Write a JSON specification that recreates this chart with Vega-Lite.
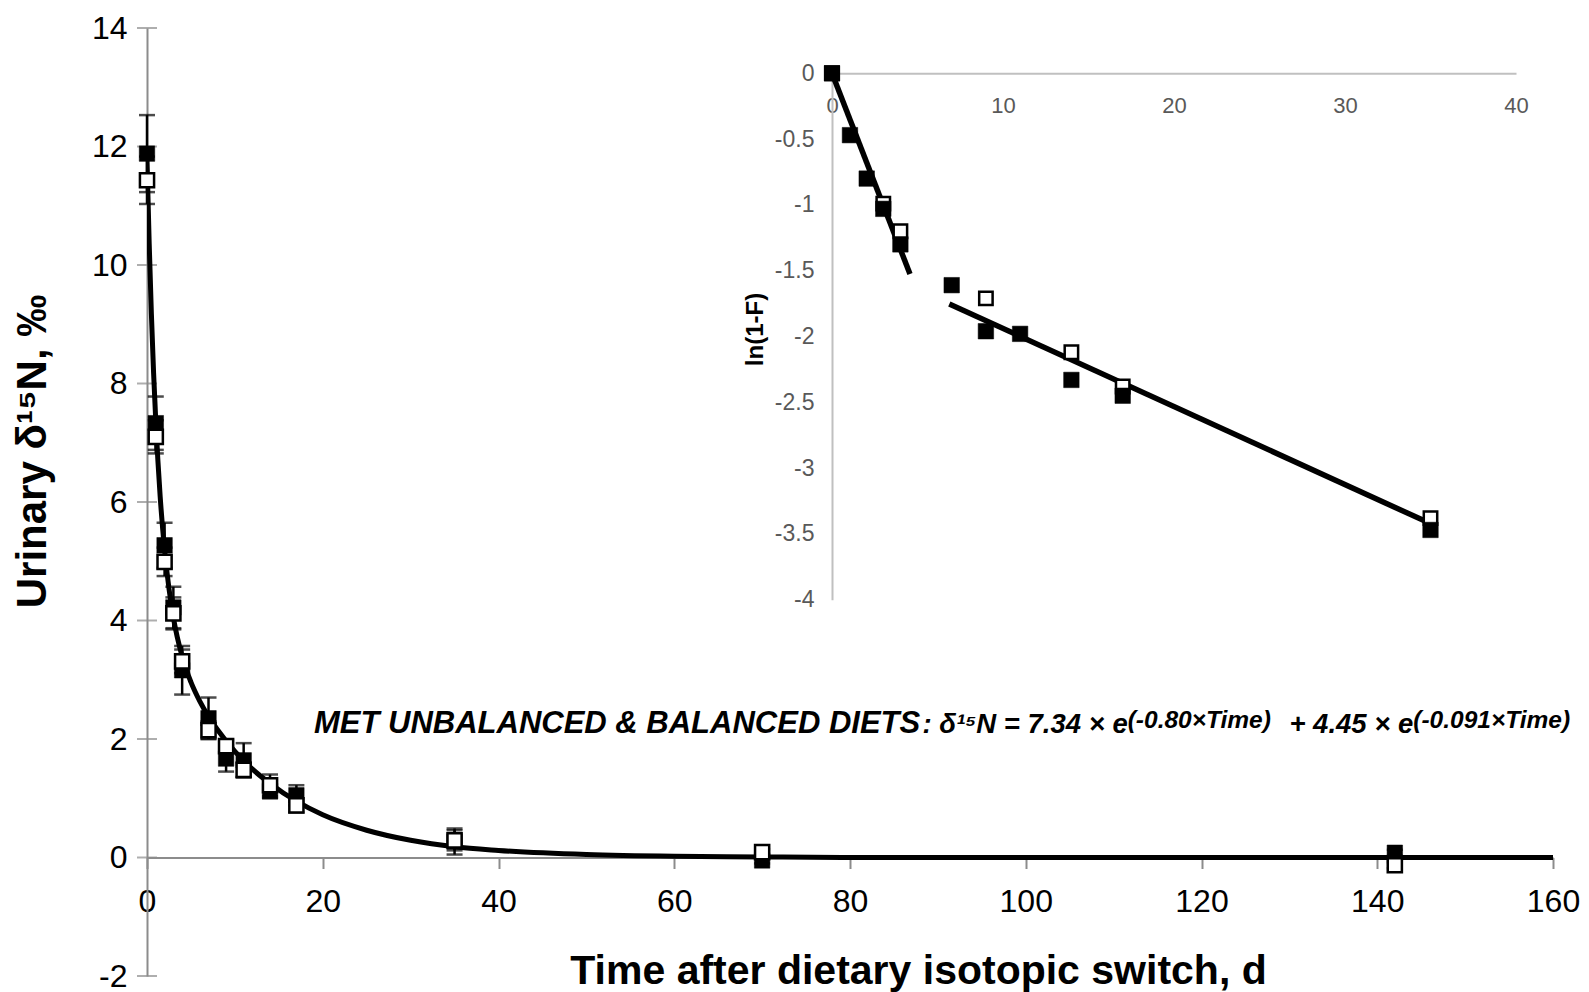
{
  "$schema": "https://vega.github.io/schema/vega-lite/v6.json",
  "width": 1406,
  "height": 948,
  "autosize": {"type": "none"},
  "padding": {"left": 147, "top": 28, "right": 36, "bottom": 16},
  "background": "white",
  "config": {"view": {"stroke": null}, "font": "Liberation Sans", "axis": {"grid": false}},
  "datasets": {
    "curve": [
      {"t": 0, "v": 11.79}, {"t": 0.25, "v": 10.36}, {"t": 0.5, "v": 9.17}, {"t": 0.75, "v": 8.18},
      {"t": 1, "v": 7.36}, {"t": 1.5, "v": 6.09}, {"t": 2, "v": 5.19}, {"t": 2.5, "v": 4.54},
      {"t": 3, "v": 4.05}, {"t": 4, "v": 3.39}, {"t": 5, "v": 2.96}, {"t": 6, "v": 2.64},
      {"t": 7, "v": 2.38}, {"t": 8, "v": 2.16}, {"t": 10, "v": 1.79}, {"t": 12, "v": 1.49},
      {"t": 14, "v": 1.25}, {"t": 17, "v": 0.95}, {"t": 20, "v": 0.72}, {"t": 25, "v": 0.46},
      {"t": 30, "v": 0.29}, {"t": 35, "v": 0.18}, {"t": 40, "v": 0.12}, {"t": 50, "v": 0.05},
      {"t": 60, "v": 0.02}, {"t": 70, "v": 0.01}, {"t": 80, "v": 0.0}, {"t": 100, "v": 0.0},
      {"t": 130, "v": 0.0}, {"t": 160, "v": 0.0}
    ],
    "yticks": [
      {"t": 0, "v": -2}, {"t": 0, "v": 0}, {"t": 0, "v": 2}, {"t": 0, "v": 4}, {"t": 0, "v": 6},
      {"t": 0, "v": 8}, {"t": 0, "v": 10}, {"t": 0, "v": 12}, {"t": 0, "v": 14}
    ],
    "points": [
      {"t": 0, "v": 11.88, "s": "filled"}, {"t": 1, "v": 7.33, "s": "filled"}, {"t": 2, "v": 5.27, "s": "filled"},
      {"t": 3, "v": 4.22, "s": "filled"}, {"t": 4, "v": 3.16, "s": "filled"}, {"t": 7, "v": 2.35, "s": "filled"},
      {"t": 9, "v": 1.67, "s": "filled"}, {"t": 11, "v": 1.64, "s": "filled"}, {"t": 14, "v": 1.12, "s": "filled"},
      {"t": 17, "v": 1.05, "s": "filled"}, {"t": 35, "v": 0.27, "s": "filled"}, {"t": 70, "v": -0.05, "s": "filled"},
      {"t": 142, "v": 0.08, "s": "filled"},
      {"t": 0, "v": 11.43, "s": "open"}, {"t": 1, "v": 7.10, "s": "open"}, {"t": 2, "v": 4.99, "s": "open"},
      {"t": 3, "v": 4.12, "s": "open"}, {"t": 4, "v": 3.31, "s": "open"}, {"t": 7, "v": 2.15, "s": "open"},
      {"t": 9, "v": 1.88, "s": "open"}, {"t": 11, "v": 1.48, "s": "open"}, {"t": 14, "v": 1.22, "s": "open"},
      {"t": 17, "v": 0.88, "s": "open"}, {"t": 35, "v": 0.29, "s": "open"}, {"t": 70, "v": 0.09, "s": "open"},
      {"t": 142, "v": -0.13, "s": "open"}
    ],
    "errbars": [
      {"t": 0, "v": 11.23, "v2": 12.53}, {"t": 1, "v": 6.88, "v2": 7.78}, {"t": 2, "v": 4.89, "v2": 5.65},
      {"t": 3, "v": 3.87, "v2": 4.57}, {"t": 4, "v": 2.75, "v2": 3.57}, {"t": 7, "v": 2.0, "v2": 2.70},
      {"t": 9, "v": 1.45, "v2": 1.89}, {"t": 11, "v": 1.35, "v2": 1.93}, {"t": 14, "v": 1.0, "v2": 1.24},
      {"t": 17, "v": 0.88, "v2": 1.22}, {"t": 35, "v": 0.05, "v2": 0.49}, {"t": 70, "v": -0.1, "v2": 0.0},
      {"t": 142, "v": 0.03, "v2": 0.13},
      {"t": 0, "v": 11.03, "v2": 11.83}, {"t": 1, "v": 6.82, "v2": 7.38}, {"t": 2, "v": 4.75, "v2": 5.23},
      {"t": 3, "v": 3.85, "v2": 4.39}, {"t": 4, "v": 3.11, "v2": 3.51}, {"t": 7, "v": 2.0, "v2": 2.3},
      {"t": 9, "v": 1.78, "v2": 1.98}, {"t": 11, "v": 1.36, "v2": 1.6}, {"t": 14, "v": 1.04, "v2": 1.40},
      {"t": 17, "v": 0.76, "v2": 1.0}, {"t": 35, "v": 0.12, "v2": 0.46}, {"t": 70, "v": 0.04, "v2": 0.14},
      {"t": 142, "v": -0.18, "v2": -0.08}
    ],
    "caps": [
      {"t": 0, "v": 11.23}, {"t": 0, "v": 12.53}, {"t": 1, "v": 6.88}, {"t": 1, "v": 7.78},
      {"t": 2, "v": 4.89}, {"t": 2, "v": 5.65}, {"t": 3, "v": 3.87}, {"t": 3, "v": 4.57},
      {"t": 4, "v": 2.75}, {"t": 4, "v": 3.57}, {"t": 7, "v": 2.0}, {"t": 7, "v": 2.70},
      {"t": 9, "v": 1.45}, {"t": 9, "v": 1.89}, {"t": 11, "v": 1.35}, {"t": 11, "v": 1.93},
      {"t": 14, "v": 1.0}, {"t": 14, "v": 1.24}, {"t": 17, "v": 0.88}, {"t": 17, "v": 1.22},
      {"t": 35, "v": 0.05}, {"t": 35, "v": 0.49}, {"t": 70, "v": -0.1}, {"t": 70, "v": 0.0},
      {"t": 142, "v": 0.03}, {"t": 142, "v": 0.13},
      {"t": 0, "v": 11.03}, {"t": 0, "v": 11.83}, {"t": 1, "v": 6.82}, {"t": 1, "v": 7.38},
      {"t": 2, "v": 4.75}, {"t": 2, "v": 5.23}, {"t": 3, "v": 3.85}, {"t": 3, "v": 4.39},
      {"t": 4, "v": 3.11}, {"t": 4, "v": 3.51}, {"t": 7, "v": 2.0}, {"t": 7, "v": 2.3},
      {"t": 9, "v": 1.78}, {"t": 9, "v": 1.98}, {"t": 11, "v": 1.36}, {"t": 11, "v": 1.6},
      {"t": 14, "v": 1.04}, {"t": 14, "v": 1.40}, {"t": 17, "v": 0.76}, {"t": 17, "v": 1.0},
      {"t": 35, "v": 0.12}, {"t": 35, "v": 0.46}, {"t": 70, "v": 0.04}, {"t": 70, "v": 0.14},
      {"t": 142, "v": -0.18}, {"t": 142, "v": -0.08}
    ],
    "textLeft": [
      {"t": 19.0, "v": 2.10, "label": "MET UNBALANCED & BALANCED DIETS"}
    ],
    "textRight": [
      {"t": 111.6, "v": 2.10, "label": ": δ¹⁵N = 7.34 × e"},
      {"t": 144.1, "v": 2.10, "label": "+ 4.45 × e"}
    ],
    "textSup": [
      {"t": 111.6, "v": 2.19, "label": "(-0.80×Time)"},
      {"t": 144.1, "v": 2.19, "label": "(-0.091×Time)"}
    ],
    "insetLines": [
      {"t": 0, "v": 0, "seg": "a"}, {"t": 4.56, "v": -1.525, "seg": "a"},
      {"t": 6.86, "v": -1.753, "seg": "b"}, {"t": 34.97, "v": -3.42, "seg": "b"}
    ],
    "insetPoints": [
      {"t": 0, "v": 0, "s": "open"}, {"t": 3, "v": -0.99, "s": "open"}, {"t": 4, "v": -1.20, "s": "open"},
      {"t": 9, "v": -1.71, "s": "open"}, {"t": 14, "v": -2.12, "s": "open"}, {"t": 17, "v": -2.38, "s": "open"},
      {"t": 35, "v": -3.38, "s": "open"},
      {"t": 0, "v": 0.0, "s": "filled"}, {"t": 1.05, "v": -0.47, "s": "filled"}, {"t": 2.03, "v": -0.80, "s": "filled"},
      {"t": 3, "v": -1.03, "s": "filled"}, {"t": 4, "v": -1.30, "s": "filled"}, {"t": 7, "v": -1.61, "s": "filled"},
      {"t": 9, "v": -1.96, "s": "filled"}, {"t": 11, "v": -1.98, "s": "filled"}, {"t": 14, "v": -2.33, "s": "filled"},
      {"t": 17, "v": -2.45, "s": "filled"}, {"t": 35, "v": -3.47, "s": "filled"}
    ]
  },
  "resolve": {"scale": {"x": "independent", "y": "independent"}},
  "layer": [
    {
      "encoding": {
        "x": {
          "field": "t", "type": "quantitative",
          "scale": {"domain": [0, 160], "nice": false, "zero": false},
          "axis": {
            "orient": "bottom", "offset": -118.5,
            "values": [0, 20, 40, 60, 80, 100, 120, 140, 160],
            "domainColor": "#8c8c8c", "domainWidth": 2,
            "tickColor": "#8c8c8c", "tickWidth": 2, "tickSize": 11,
            "labelFontSize": 32, "labelColor": "#000000", "labelPadding": 18,
            "labelFlush": false, "labelOverlap": false,
            "title": "Time after dietary isotopic switch, d",
            "titleFontSize": 41, "titleFontWeight": "bold", "titleColor": "#000000",
            "titleX": 771, "titleY": 114, "titleBaseline": "middle", "titleAlign": "center"
          }
        },
        "y": {
          "field": "v", "type": "quantitative",
          "scale": {"domain": [-2, 14], "nice": false, "zero": false},
          "axis": {
            "orient": "left",
            "values": [-2, 0, 2, 4, 6, 8, 10, 12, 14],
            "labelExpr": "'' + datum.value",
            "domainColor": "#8c8c8c", "domainWidth": 2,
            "ticks": false, "tickSize": 10,
            "labelFontSize": 32, "labelColor": "#000000", "labelPadding": 20,
            "labelOverlap": false,
            "title": "Urinary δ¹⁵N, ‰",
            "titleFontSize": 42, "titleFontWeight": "bold", "titleColor": "#000000",
            "titleX": -115, "titleY": 423, "titleAngle": 270,
            "titleBaseline": "middle", "titleAlign": "center"
          }
        }
      },
      "layer": [
        {
          "data": {"name": "yticks"},
          "mark": {"type": "tick", "orient": "horizontal", "color": "#8c8c8c", "size": 20, "thickness": 2}
        },
        {
          "data": {"name": "curve"},
          "mark": {"type": "line", "color": "#000000", "strokeWidth": 5, "interpolate": "monotone", "clip": true}
        },
        {
          "data": {"name": "errbars"},
          "mark": {"type": "rule", "color": "#000000", "strokeWidth": 2.5},
          "encoding": {"y2": {"field": "v2"}}
        },
        {
          "data": {"name": "caps"},
          "mark": {"type": "tick", "orient": "horizontal", "color": "#000000", "size": 16, "thickness": 2.5}
        },
        {
          "data": {"name": "points"},
          "transform": [{"filter": "datum.s == 'filled'"}],
          "mark": {"type": "point", "shape": "square", "filled": true, "fill": "#000000", "stroke": "#000000", "strokeWidth": 0.5, "size": 240, "opacity": 1}
        },
        {
          "data": {"name": "points"},
          "transform": [{"filter": "datum.s == 'open'"}],
          "mark": {"type": "point", "shape": "square", "filled": false, "fill": "#ffffff", "fillOpacity": 1, "stroke": "#000000", "strokeWidth": 2.5, "size": 200, "opacity": 1}
        },
        {
          "data": {"name": "textLeft"},
          "mark": {"type": "text", "align": "left", "baseline": "alphabetic", "fontSize": 31, "fontWeight": "bold", "fontStyle": "italic", "color": "#000000"},
          "encoding": {"text": {"field": "label"}}
        },
        {
          "data": {"name": "textRight"},
          "mark": {"type": "text", "align": "right", "baseline": "alphabetic", "fontSize": 27.5, "fontWeight": "bold", "fontStyle": "italic", "color": "#000000"},
          "encoding": {"text": {"field": "label"}}
        },
        {
          "data": {"name": "textSup"},
          "mark": {"type": "text", "align": "left", "baseline": "alphabetic", "fontSize": 24.5, "fontWeight": "bold", "fontStyle": "italic", "color": "#000000"},
          "encoding": {"text": {"field": "label"}}
        }
      ]
    },
    {
      "encoding": {
        "x": {
          "field": "t", "type": "quantitative",
          "scale": {"domain": [0, 40], "range": [685, 1369], "nice": false, "zero": false},
          "axis": {
            "orient": "top", "offset": -45.3,
            "values": [0, 10, 20, 30, 40],
            "ticks": false, "tickSize": 0,
            "domainColor": "#c0c0c0", "domainWidth": 2,
            "labelFontSize": 22, "labelColor": "#595959",
            "labelBaseline": "middle", "labelPadding": -32,
            "labelFlush": false, "labelOverlap": false,
            "title": null
          }
        },
        "y": {
          "field": "v", "type": "quantitative",
          "scale": {"domain": [-4, 0], "range": [571.7, 45.3], "nice": false, "zero": false},
          "axis": {
            "orient": "right", "offset": -721,
            "values": [0, -0.5, -1, -1.5, -2, -2.5, -3, -3.5, -4],
            "labelExpr": "'' + datum.value",
            "ticks": false, "tickSize": 0,
            "domainColor": "#c0c0c0", "domainWidth": 2,
            "labelFontSize": 23, "labelColor": "#595959",
            "labelAlign": "right", "labelBaseline": "middle", "labelPadding": -18,
            "labelOverlap": false,
            "title": "ln(1-F)",
            "titleFontSize": 24, "titleFontWeight": "bold", "titleColor": "#000000",
            "titleX": -77, "titleY": 301, "titleAngle": 270,
            "titleBaseline": "middle", "titleAlign": "center"
          }
        }
      },
      "layer": [
        {
          "data": {"name": "insetLines"},
          "mark": {"type": "line", "color": "#000000", "strokeWidth": 5.5},
          "encoding": {"detail": {"field": "seg"}}
        },
        {
          "data": {"name": "insetPoints"},
          "transform": [{"filter": "datum.s == 'open'"}],
          "mark": {"type": "point", "shape": "square", "filled": false, "fill": "#ffffff", "fillOpacity": 1, "stroke": "#000000", "strokeWidth": 2.5, "size": 180, "opacity": 1}
        },
        {
          "data": {"name": "insetPoints"},
          "transform": [{"filter": "datum.s == 'filled'"}],
          "mark": {"type": "point", "shape": "square", "filled": true, "fill": "#000000", "stroke": "#000000", "strokeWidth": 0.5, "size": 240, "opacity": 1}
        }
      ]
    }
  ]
}
